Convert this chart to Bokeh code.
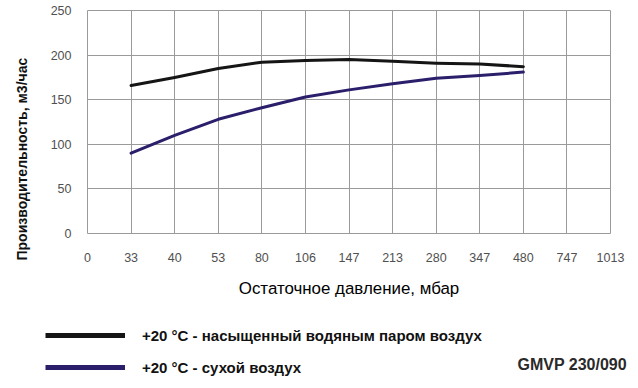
from bokeh.plotting import figure
from bokeh.layouts import column
from bokeh.models import Range1d, FixedTicker, Label, Legend, LegendItem, Title
from bokeh.embed import file_html
from bokeh.resources import INLINE

# ---- data ----
pressure_labels = ["0", "33", "40", "53", "80", "106", "147", "213", "280", "347", "480", "747", "1013"]
series_points = ["33", "40", "53", "80", "106", "147", "213", "280", "347", "480"]
saturated = [166, 175, 185, 192, 194, 195, 193, 191, 190, 187]
dry = [90, 110, 128, 141, 153, 161, 168, 174, 177, 181]
y_ticks = [0, 50, 100, 150, 200, 250]

name_saturated = "+20 °C - насыщенный водяным паром воздух"
name_dry = "+20 °C - сухой воздух"
x_title = "Остаточное давление, мбар"
y_title = "Производительность, м3/час"
model_name = "GMVP 230/090"

FONT = "Liberation Sans"
BLACK = "#151515"
BLUE = "#2b1f6b"
xs = [pressure_labels.index(c) for c in series_points]

p = figure(width=638, height=300, output_backend="svg", toolbar_location=None,
           x_range=Range1d(0, len(pressure_labels) - 1), y_range=Range1d(0, 250),
           min_border_left=87, min_border_right=28, min_border_top=10, min_border_bottom=67)
p.frame_align = False
p.background_fill_color = "white"
p.border_fill_color = "white"
p.outline_line_color = "#9a9a9a"
p.outline_line_width = 1

p.xaxis.ticker = FixedTicker(ticks=list(range(len(pressure_labels))))
p.xaxis.major_label_overrides = {i: l for i, l in enumerate(pressure_labels)}
p.yaxis.ticker = FixedTicker(ticks=y_ticks)

for ax in (p.xaxis[0], p.yaxis[0]):
    ax.axis_line_color = None
    ax.major_tick_line_color = None
    ax.minor_tick_line_color = None
    ax.major_label_text_font = FONT
    ax.major_label_text_font_size = "12.5px"
    ax.major_label_text_color = "#505050"
p.xaxis.major_label_standoff = 13
p.yaxis.major_label_standoff = 10
p.xaxis.axis_label = x_title
p.xaxis.axis_label_text_font = FONT
p.xaxis.axis_label_text_font_size = "16.9px"
p.xaxis.axis_label_text_font_style = "normal"
p.xaxis.axis_label_text_color = "#000000"
p.xaxis.axis_label_standoff = 14

# spacer + rotated y title in the left panel
p.add_layout(Title(text=" ", text_font_size="1px"), "left")
p.add_layout(Title(text=y_title, align="left", offset=-27, text_font=FONT,
                   text_font_size="14px", text_font_style="bold", text_color="#111111"), "left")

p.xgrid.ticker = FixedTicker(ticks=list(range(len(pressure_labels))))
p.ygrid.ticker = FixedTicker(ticks=y_ticks)
for g in (p.xgrid[0], p.ygrid[0]):
    g.grid_line_color = "#9a9a9a"
    g.grid_line_width = 1

p.line(xs, saturated, line_color=BLACK, line_width=3, line_join="round", line_cap="round")
p.line(xs, dry, line_color=BLUE, line_width=3, line_join="round", line_cap="round")

# ---- legend strip ----
q = figure(width=638, height=88, output_backend="svg", toolbar_location=None,
           x_range=Range1d(0, 1), y_range=Range1d(0, 1),
           min_border=0, min_border_left=0, min_border_right=0, min_border_top=0, min_border_bottom=0)
q.frame_align = False
q.axis.visible = False
q.grid.visible = False
q.outline_line_color = None
q.background_fill_color = "white"
q.border_fill_color = "white"

nan = float("nan")
l1 = q.line([nan], [nan], line_color=BLACK, line_width=5)
l2 = q.line([nan], [nan], line_color=BLUE, line_width=5)
legend = Legend(items=[LegendItem(label=name_saturated, renderers=[l1]),
                       LegendItem(label=name_dry, renderers=[l2])],
                location=(45, 11), orientation="vertical",
                glyph_width=80, glyph_height=20, label_height=20, spacing=12,
                label_standoff=17, padding=0, margin=0,
                border_line_color=None, background_fill_alpha=0,
                label_text_font=FONT, label_text_font_size="15px",
                label_text_font_style="bold", label_text_color="#111111")
q.add_layout(legend, "center")
q.add_layout(Label(x=517, y=24, x_units="screen", y_units="screen", text=model_name,
                   text_align="left", text_baseline="middle",
                   text_font=FONT, text_font_size="16px", text_font_style="bold",
                   text_color="#2a2a2a"))

open("out.html", "w").write(file_html(column(p, q, spacing=0), INLINE))
